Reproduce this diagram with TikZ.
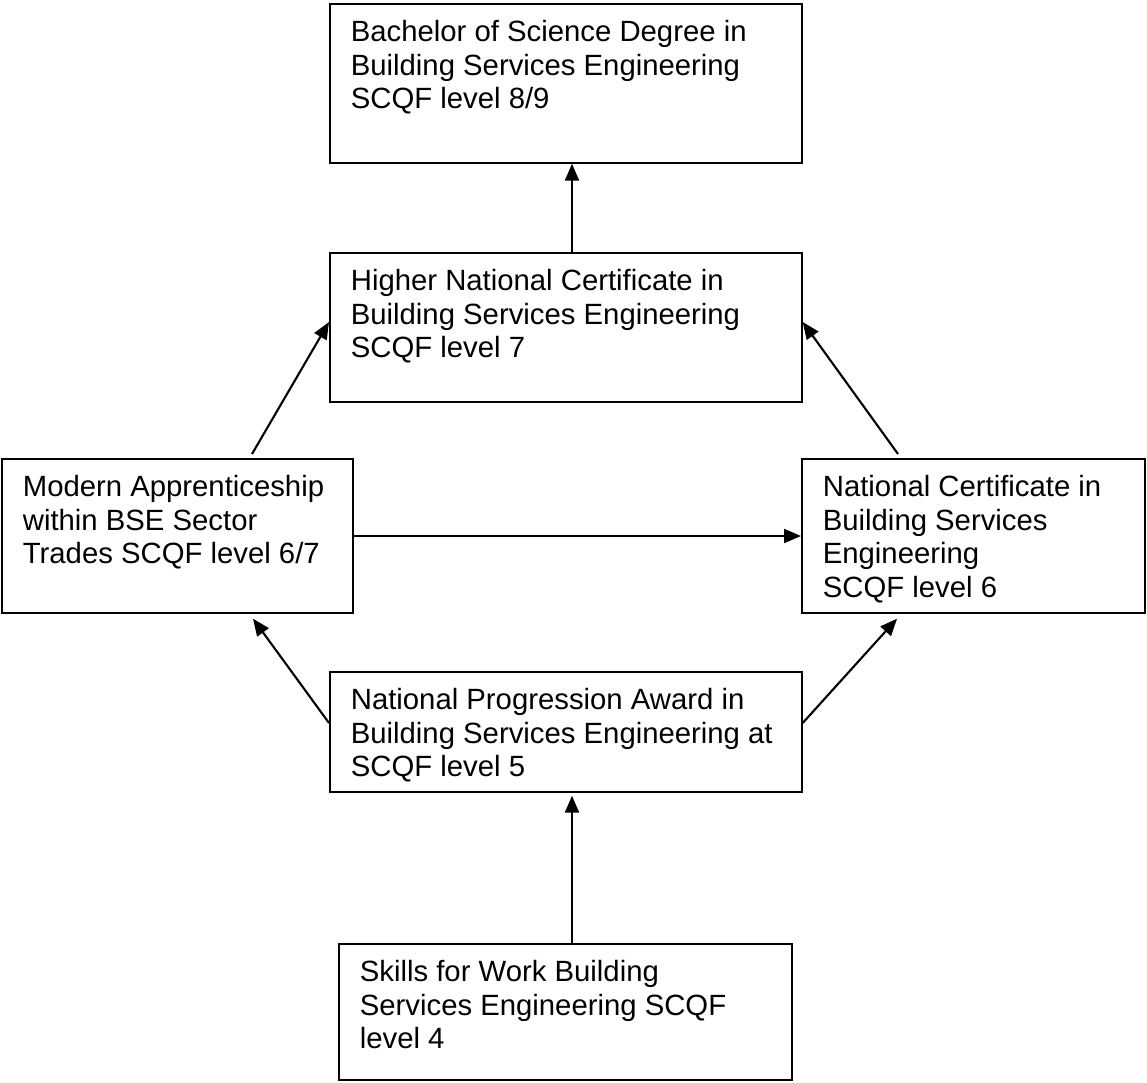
\documentclass[tikz,border=0pt]{standalone}
\usepackage{fontspec}
\setmainfont{Liberation Sans}
\usetikzlibrary{arrows.meta,calc}
\newcommand{\boxtxt}[3]{%
\begin{minipage}[t][#2pt][t]{#1pt}%
\fontsize{29.3pt}{33.5pt}\selectfont\raggedright\leftskip=21pt\parindent=0pt%
\vspace*{14.5pt}%
\strut #3%
\end{minipage}}
\tikzset{
  x=1pt, y=-1pt,
  box/.style={draw=black, line width=1.7pt, inner sep=0pt, anchor=north west},
  arr/.style={draw=black, line width=2.1pt, -{Triangle[length=17pt,width=14pt]}}
}
\begin{document}
\begin{tikzpicture}
\fill[white] (0,0) rectangle (1147,1082);
\useasboundingbox (0,0) rectangle (1147,1082);
\node[box] (bsc) at (329,3) {\boxtxt{472}{159}{Bachelor of Science Degree in\\Building Services Engineering\\SCQF level 8/9}};
\node[box] (hnc) at (329,252) {\boxtxt{472}{149}{Higher National Certificate in\\Building Services Engineering\\SCQF level 7}};
\node[box] (ma) at (1,458) {\boxtxt{351}{154}{Modern Apprenticeship\\within BSE Sector\\Trades SCQF level 6/7}};
\node[box] (nc) at (801,458) {\boxtxt{343}{154}{National Certificate in\\Building Services\\Engineering\\SCQF level 6}};
\node[box] (npa) at (329,671) {\boxtxt{472}{120}{National Progression Award in\\Building Services Engineering at\\SCQF level 5}};
\node[box] (sfw) at (338,943) {\boxtxt{453}{136}{Skills for Work Building\\Services Engineering SCQF\\level 4}};
\draw[arr] ($(hnc.north west)+(243,0)$) -- ($(bsc.south west)+(243,0)$);
\draw[arr] ($(ma.north west)+(251,-4)$) -- ($(hnc.north west)+(0,70)$);
\draw[arr] ($(nc.north west)+(97,-4)$) -- ($(hnc.north east)+(0,70)$);
\draw[arr] ($(ma.north east)+(0,78)$) -- ($(nc.north west)+(0,78)$);
\draw[arr] ($(npa.north west)+(0,52)$) -- ($(ma.south west)+(252,5)$);
\draw[arr] ($(npa.north east)+(0,52)$) -- ($(nc.south west)+(96,5)$);
\draw[arr] ($(sfw.north west)+(234,0)$) -- ($(npa.south west)+(243,3)$);
\end{tikzpicture}
\end{document}
